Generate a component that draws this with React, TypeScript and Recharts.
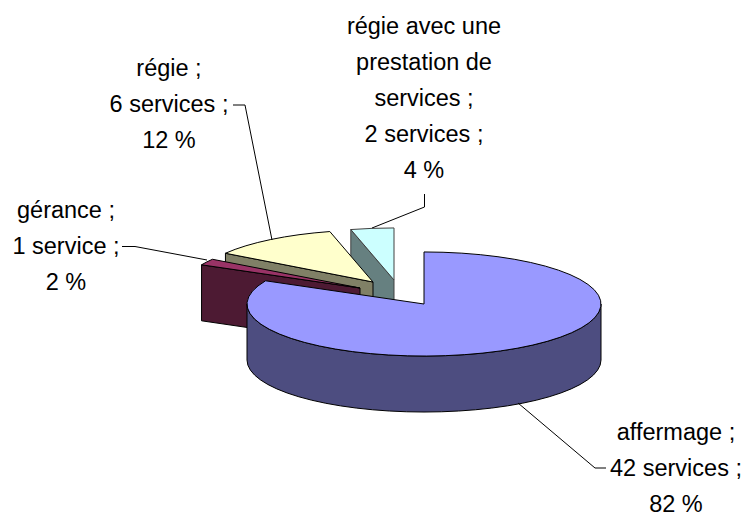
import React from 'react';
import { PieChart, Pie } from 'recharts';

// Back-to-front so the slices overlap properly when painted
const categories = ['régie avec une prestation de services', 'régie', 'gérance', 'affermage'];
const serviceCounts = [2, 6, 1, 42];
const categoryLines = [
    ['régie avec une', 'prestation de', 'services ;'],
    ['régie ;'],
    ['gérance ;'],
    ['affermage ;'],
];

const data = categories.map((name, i) => ({ name, value: serviceCounts[i] }));

const WIDTH = 749;
const HEIGHT = 513;
const CENTER_X = 424;
const CENTER_Y = 304;
const RADIUS = 177;
const TILT = 0.294; // vertical squash of the pie disc
const DEPTH = 56;
const LINE_HEIGHT = 36;

const sliceColors = [
    { top: '#CCFFFF', wall: '#668080', edge: '#404040', dx: -30, dy: -24 },
    { top: '#FFFFCC', wall: '#808066', edge: '#000000', dx: -51, dy: -22 },
    { top: '#993366', wall: '#4D1A33', edge: '#000000', dx: -64, dy: -16 },
    { top: '#9999FF', wall: '#4D4D80', edge: '#000000', dx: 0, dy: 0 },
];

// Text anchor (first baseline) and leader line of each label
const labelLayout = [
    { x: 424, y: 34, leader: '424.5,194 424.5,207 372,228' },
    { x: 169, y: 76, leader: '233,105 245,105 272,240' },
    { x: 66, y: 218, leader: '122,246.5 135,246.5 207,260' },
    { x: 676, y: 440, leader: '518,403 595,468 606,468' },
];

const toRad = (deg: number) => (deg * Math.PI) / 180;

const SliceShape = (props: any) => {
    const { cx, cy, outerRadius, startAngle, endAngle, index } = props;
    const style = sliceColors[index];
    const ox = cx + style.dx;
    const oy = cy + style.dy;
    const ry = outerRadius * TILT;

    const rim = (deg: number, drop = 0) =>
        `${ox + outerRadius * Math.cos(toRad(deg))},${oy - ry * Math.sin(toRad(deg)) + drop}`;
    const apex = (drop = 0) => `${ox},${oy + drop}`;

    const walls: string[] = [];

    // Cut faces, only when they turn towards the viewer
    if (Math.sin(toRad(startAngle - 90)) < -0.01) {
        walls.push(`M${apex()} L${rim(startAngle)} L${rim(startAngle, DEPTH)} L${apex(DEPTH)} Z`);
    }
    if (Math.sin(toRad(endAngle + 90)) < -0.01) {
        walls.push(`M${apex()} L${rim(endAngle)} L${rim(endAngle, DEPTH)} L${apex(DEPTH)} Z`);
    }

    // Outer wall, the front half of the rim
    const from = Math.max(startAngle, 180);
    const to = Math.min(endAngle, 360);
    if (to > from) {
        const big = to - from > 180 ? 1 : 0;
        walls.push(
            `M${rim(from)} A${outerRadius},${ry} 0 ${big} 0 ${rim(to)} ` +
            `L${rim(to, DEPTH)} A${outerRadius},${ry} 0 ${big} 1 ${rim(from, DEPTH)} Z`
        );
    }

    const large = endAngle - startAngle > 180 ? 1 : 0;
    const topFace = `M${apex()} L${rim(startAngle)} A${outerRadius},${ry} 0 ${large} 0 ${rim(endAngle)} Z`;

    return (
        <g>
            {walls.map((d, i) => (
                <path key={i} d={d} fill={style.wall} stroke={style.edge} strokeWidth={1} strokeLinejoin="round" />
            ))}
            <path d={topFace} fill={style.top} stroke={style.edge} strokeWidth={1} strokeLinejoin="round" />
        </g>
    );
};

const SliceLabel = (props: any) => {
    const { index, value, percent } = props;
    const layout = labelLayout[index];
    const lines = [
        ...categoryLines[index],
        `${value} ${value > 1 ? 'services' : 'service'} ;`,
        `${Math.round(percent * 100)} %`,
    ];

    return (
        <g>
            <polyline points={layout.leader} fill="none" stroke="#000000" strokeWidth={1} />
            <text x={layout.x} y={layout.y} textAnchor="middle" fontFamily='"Liberation Sans", Arial, sans-serif' fontSize={23.5} fill="#000000">
                {lines.map((line, i) => (
                    <tspan key={i} x={layout.x} y={layout.y + i * LINE_HEIGHT}>{line}</tspan>
                ))}
            </text>
        </g>
    );
};

const App = () => (
    <div style={{ position: 'absolute', left: 0, top: 0, width: WIDTH, height: HEIGHT, background: '#ffffff' }}>
        <PieChart width={WIDTH} height={HEIGHT} margin={{ top: 0, right: 0, bottom: 0, left: 0 }}>
            <Pie
                data={data}
                dataKey="value"
                nameKey="name"
                cx={CENTER_X}
                cy={CENTER_Y}
                innerRadius={0}
                outerRadius={RADIUS}
                startAngle={90}
                endAngle={450}
                paddingAngle={0}
                shape={SliceShape}
                label={SliceLabel}
                labelLine={false}
                isAnimationActive={false}
            />
        </PieChart>
    </div>
);

export default App;
